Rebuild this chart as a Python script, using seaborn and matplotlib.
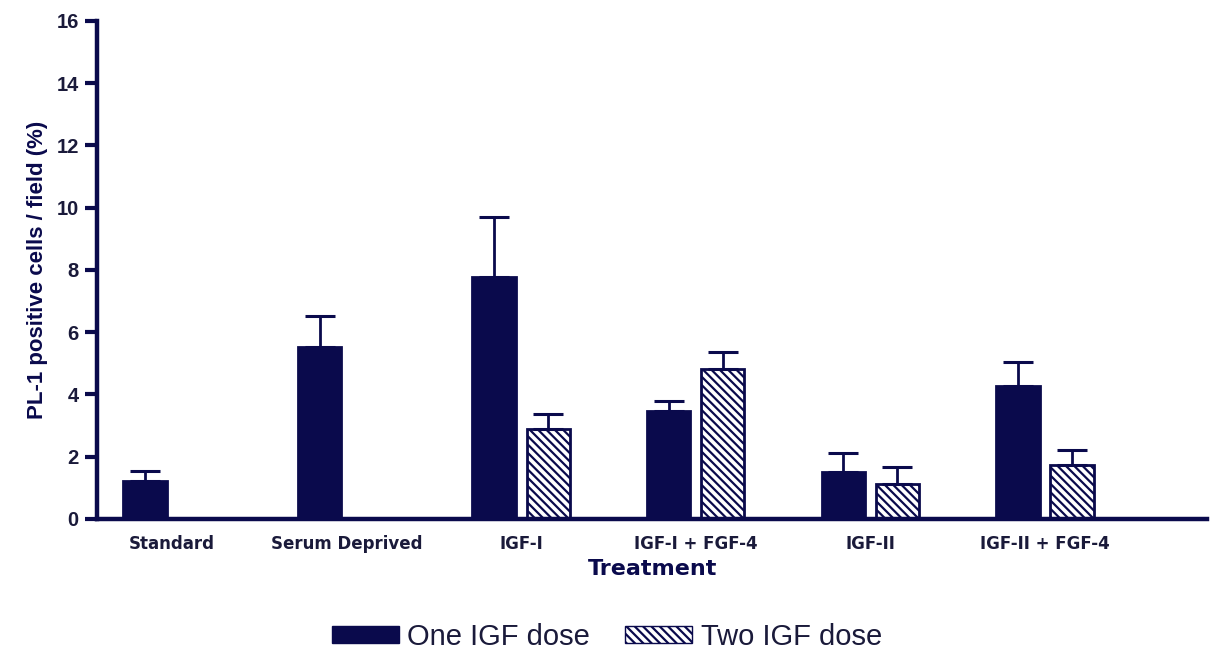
import numpy as np
import pandas as pd
import matplotlib
matplotlib.use("Agg")
import matplotlib.pyplot as plt
from matplotlib.patches import Patch
import seaborn as sns

treatments = ["Standard", "Serum Deprived", "IGF-I", "IGF-I + FGF-4", "IGF-II", "IGF-II + FGF-4"]
doses = ["One IGF dose", "Two IGF dose"]
one_dose = [1.22, 5.53, 7.78, 3.47, 1.51, 4.28]
one_err = [0.32, 1.00, 1.93, 0.32, 0.61, 0.77]
two_dose = [np.nan, np.nan, 2.89, 4.82, 1.13, 1.74]
two_err = [np.nan, np.nan, 0.49, 0.55, 0.54, 0.48]

NAVY = "#0a0a4c"

rows = []
for t, v, e in zip(treatments, one_dose, one_err):
    rows.append((t, doses[0], v, e))
for t, v, e in zip(treatments, two_dose, two_err):
    rows.append((t, doses[1], v, e))
df = pd.DataFrame(rows, columns=["Treatment", "Dose", "Value", "Err"]).dropna()

sns.set_style("white")
plt.rcParams["font.family"] = ["Liberation Sans", "DejaVu Sans"]
plt.rcParams["hatch.color"] = NAVY
plt.rcParams["hatch.linewidth"] = 1.6

fig = plt.figure(figsize=(12.11, 6.55), dpi=100)
ax = fig.add_axes([0.080, 0.208, 0.917, 0.760])

sns.barplot(data=df, x="Treatment", y="Value", hue="Dose",
            order=treatments, hue_order=doses,
            palette=[NAVY, "white"], width=0.62, gap=0.2, saturation=1,
            edgecolor=NAVY, linewidth=2, errorbar=None, legend=False, ax=ax)

bar_containers = list(ax.containers)
for i, cont in enumerate(bar_containers[:2]):
    dose = doses[i]
    sub = df[df["Dose"] == dose]
    for bar in cont:
        xc = bar.get_x() + bar.get_width() / 2
        cat = treatments[int(round(xc))]
        r = sub[sub["Treatment"] == cat]
        if len(r) == 0:
            continue
        if i == 1:
            bar.set_hatch("\\\\\\\\")
        val = float(r["Value"].iloc[0])
        err = float(r["Err"].iloc[0])
        ax.errorbar([xc], [val], yerr=[[0], [err]], fmt="none",
                    ecolor=NAVY, elinewidth=2, capsize=11, capthick=2.2, zorder=1)

ax.set_ylim(0, 16)
ax.set_xlim(-0.43, 5.93)
ax.set_yticks(np.arange(0, 17, 2))
ax.set_yticklabels([str(v) for v in range(0, 17, 2)], fontsize=14.5, fontweight="bold")
ax.set_xticks(range(len(treatments)))
ax.set_xticklabels(treatments, fontsize=12, fontweight="bold", color="#1a1a3a",
                   family=["DejaVu Sans"])
ax.tick_params(axis="y", left=True, direction="out", length=9, width=3, color=NAVY,
               pad=4, labelcolor="#1a1a3a")
ax.tick_params(axis="x", bottom=False, length=0, pad=12)

for s in ["top", "right"]:
    ax.spines[s].set_visible(False)
for s in ["left", "bottom"]:
    ax.spines[s].set_color(NAVY)
    ax.spines[s].set_linewidth(3.2)

ax.set_ylabel("PL-1 positive cells / field (%)", fontsize=16, fontweight="bold", color=NAVY, labelpad=6)
ax.set_xlabel("Treatment", fontsize=16, fontweight="bold", color=NAVY, labelpad=4,
              family=["DejaVu Sans"])

handles = [Patch(facecolor=NAVY, edgecolor=NAVY, linewidth=1),
           Patch(facecolor="white", edgecolor=NAVY, hatch="\\\\\\\\", linewidth=1)]
fig.legend(handles, doses, loc="center", bbox_to_anchor=(607 / 1211, 1 - 637 / 655),
           ncol=2, frameon=False, fontsize=21, handlelength=2.3, handleheight=0.55,
           columnspacing=1.2, handletextpad=0.3, labelcolor="#1a1a3a")

fig.savefig("out.png", dpi=100)
